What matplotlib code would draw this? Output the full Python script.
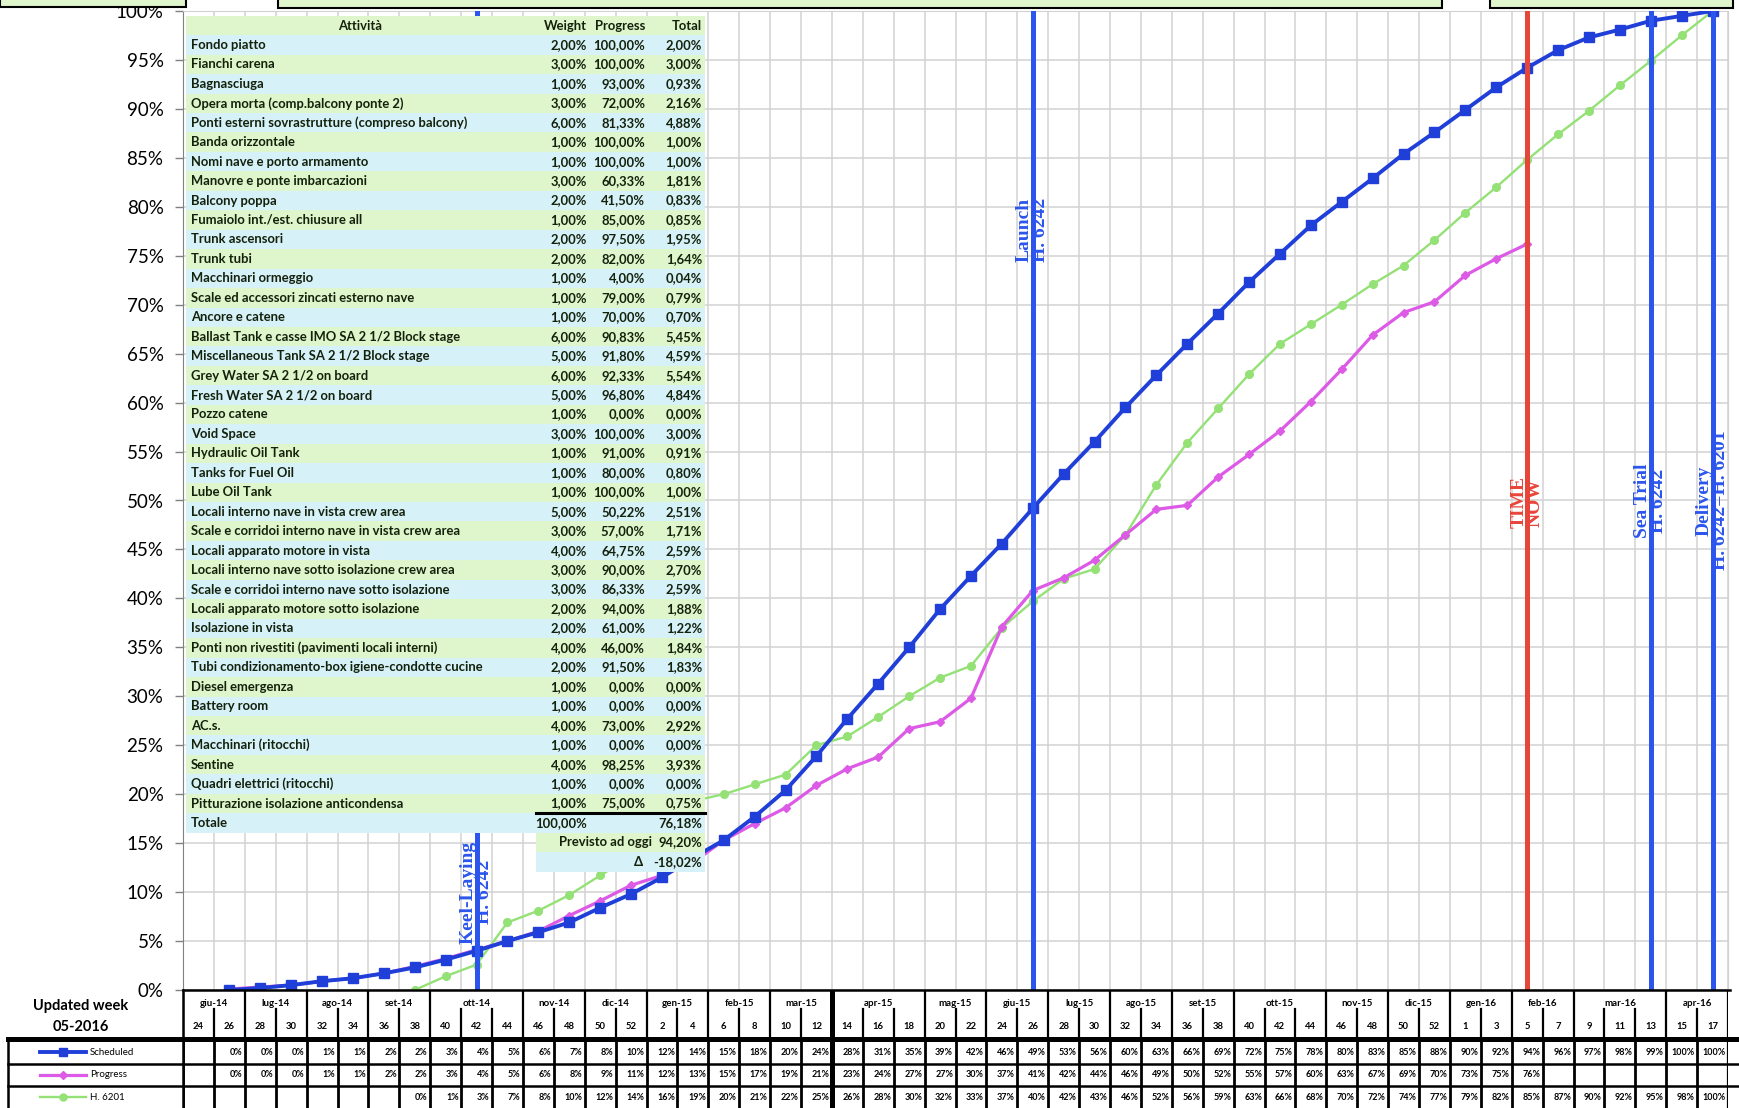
import numpy as np
import matplotlib
matplotlib.use("Agg")
import matplotlib.pyplot as plt
from matplotlib.patches import Rectangle
from matplotlib.lines import Line2D

plt.rcParams['font.family'] = ['Lato', 'DejaVu Sans']

nan = np.nan

# ---------------- data ----------------
months = ["giu-14", "lug-14", "ago-14", "set-14", "ott-14", "nov-14", "dic-14",
          "gen-15", "feb-15", "mar-15", "apr-15", "mag-15", "giu-15", "lug-15",
          "ago-15", "set-15", "ott-15", "nov-15", "dic-15", "gen-16", "feb-16",
          "mar-16", "apr-16"]
month_span = [2, 2, 2, 2, 3, 2, 2, 2, 2, 2, 3, 2, 2, 2, 2, 2, 3, 2, 2, 2, 2, 3, 2]
weeks = [24, 26, 28, 30, 32, 34, 36, 38, 40, 42, 44, 46, 48, 50, 52,
         2, 4, 6, 8, 10, 12, 14, 16, 18, 20, 22, 24, 26, 28, 30, 32, 34, 36, 38,
         40, 42, 44, 46, 48, 50, 52,
         1, 3, 5, 7, 9, 11, 13, 15, 17]

scheduled = [nan, 0.0, 0.2, 0.5, 0.9, 1.2, 1.7, 2.3, 3.1, 4.0, 5.0, 5.9, 6.9, 8.4,
             9.8, 11.5, 13.5, 15.3, 17.7, 20.4, 23.9, 27.7, 31.3, 35.0, 38.9, 42.3,
             45.6, 49.2, 52.7, 56.0, 59.5, 62.8, 66.0, 69.1, 72.3, 75.2, 78.1, 80.5,
             82.9, 85.4, 87.6, 89.9, 92.2, 94.2, 96.0, 97.3, 98.1, 99.0, 99.5, 100.0]
progress = [nan, 0.1, 0.3, 0.5, 0.9, 1.2, 1.7, 2.4, 3.2, 4.1, 5.0, 6.0, 7.6, 9.1,
            10.7, 11.7, 13.0, 15.3, 17.0, 18.6, 20.9, 22.6, 23.8, 26.7, 27.4, 29.8,
            37.1, 40.8, 42.1, 43.9, 46.5, 49.1, 49.5, 52.4, 54.7, 57.1, 60.1, 63.4,
            66.9, 69.2, 70.3, 73.0, 74.7, 76.2, nan, nan, nan, nan, nan, nan]
h6201 = [nan, nan, nan, nan, nan, nan, nan, 0.0, 1.4, 2.6, 6.9, 8.1, 9.7, 11.7,
         13.6, 15.5, 19.3, 20.0, 21.0, 22.0, 25.0, 25.9, 27.9, 30.0, 31.9, 33.1,
         37.0, 39.7, 42.0, 43.0, 46.5, 51.6, 55.9, 59.4, 62.9, 66.0, 68.0, 70.0,
         72.1, 74.0, 76.6, 79.4, 82.0, 84.8, 87.4, 89.8, 92.4, 94.9, 97.5, 100.0]
series_names = ["Scheduled", "Progress", "H. 6201"]

milestone_labels = ["Keel-Laying\nH. 6242", "Launch\nH. 6242", "TIME\nNOW",
                    "Sea Trial\nH. 6242", "Delivery\nH. 6242=H. 6201"]
milestone_cols = [9, 27, 43, 47, 49]

activities = [
    "Fondo piatto", "Fianchi carena", "Bagnasciuga",
    "Opera morta (comp.balcony ponte 2)",
    "Ponti esterni sovrastrutture (compreso balcony)", "Banda orizzontale",
    "Nomi nave e porto armamento", "Manovre e ponte imbarcazioni",
    "Balcony poppa", "Fumaiolo int./est. chiusure all", "Trunk ascensori",
    "Trunk tubi", "Macchinari ormeggio",
    "Scale ed accessori zincati esterno nave", "Ancore e catene",
    "Ballast Tank e casse IMO SA 2 1/2 Block stage",
    "Miscellaneous Tank SA 2 1/2 Block stage", "Grey Water SA 2 1/2 on board",
    "Fresh Water SA 2 1/2 on board", "Pozzo catene", "Void Space",
    "Hydraulic Oil Tank", "Tanks for Fuel Oil", "Lube Oil Tank",
    "Locali interno nave in vista crew area",
    "Scale e corridoi interno nave in vista crew area",
    "Locali apparato motore in vista",
    "Locali interno nave sotto isolazione crew area",
    "Scale e corridoi interno nave sotto isolazione",
    "Locali apparato motore sotto isolazione", "Isolazione in vista",
    "Ponti non rivestiti (pavimenti locali interni)",
    "Tubi condizionamento-box igiene-condotte cucine", "Diesel emergenza",
    "Battery room", "AC.s.", "Macchinari (ritocchi)", "Sentine",
    "Quadri elettrici (ritocchi)", "Pitturazione isolazione anticondensa"]
weights = [2, 3, 1, 3, 6, 1, 1, 3, 2, 1, 2, 2, 1, 1, 1, 6, 5, 6, 5, 1, 3, 1, 1, 1,
           5, 3, 4, 3, 3, 2, 2, 4, 2, 1, 1, 4, 1, 4, 1, 1]
progress_pct = [100.00, 100.00, 93.00, 72.00, 81.33, 100.00, 100.00, 60.33, 41.50,
                85.00, 97.50, 82.00, 4.00, 79.00, 70.00, 90.83, 91.80, 92.33, 96.80,
                0.00, 100.00, 91.00, 80.00, 100.00, 50.22, 57.00, 64.75, 90.00,
                86.33, 94.00, 61.00, 46.00, 91.50, 0.00, 0.00, 73.00, 0.00, 98.25,
                0.00, 75.00]
previsto = 94.20

# ---------------- helpers ----------------
W, H = 1739, 1108


def pct(v):
    return f"{v:.2f}".replace(".", ",") + "%"


BLUE = "#1f3fd8"
MLBLUE = "#2b55ec"
RED = "#e8453a"
MAG = "#dc5ae6"
GRN = "#94e176"
GREEN_BG = "#dff5cc"
CYAN_BG = "#d7f1f9"
TXT = "#14220c"

fig = plt.figure(figsize=(W / 100, H / 100), dpi=100)

L, R, T, B = 183, 1728, 11, 990
ax = fig.add_axes([L / W, 1 - B / H, (R - L) / W, (B - T) / H])
n = len(weeks)
x = np.arange(n)
ax.set_xlim(-0.5, n - 0.5)
ax.set_ylim(0, 100)
ax.set_yticks(np.arange(0, 101, 5))
ax.set_yticklabels([f"{v}%" for v in range(0, 101, 5)], fontsize=13.5)
ax.set_xticks(np.arange(-0.5, n, 1))
ax.tick_params(axis='x', length=0, labelbottom=False)
ax.tick_params(axis='y', length=6, width=1, color='#808080', pad=8)
ax.grid(True, color='#d2d2d2', lw=1.1, zorder=0)
ax.set_axisbelow(True)
for s in ['top', 'right']:
    ax.spines[s].set_color('#d2d2d2')
ax.spines['left'].set_color('#808080')
ax.spines['bottom'].set_visible(False)

ax.plot(x, h6201, color=GRN, lw=1.7, marker='o', ms=5.5, zorder=3)
ax.plot(x, progress, color=MAG, lw=2.3, marker='D', ms=4.5, zorder=4)
ax.plot(x, scheduled, color=BLUE, lw=2.8, marker='s', ms=7, zorder=5)

label_y = [10.0, 77.6, 49.8, 50.0, 50.0]
for lab, col, ly in zip(milestone_labels, milestone_cols, label_y):
    c = RED if "TIME" in lab else MLBLUE
    ax.axvline(col, color=c, lw=3.6, zorder=6)
    ax.text(col, ly, lab, rotation=90, ha='center', va='center', color=c,
            fontsize=14, fontweight='bold', family=['Liberation Serif'],
            linespacing=0.95, zorder=7)

# ---------------- overlay (pixel coords) ----------------
ov = fig.add_axes([0, 0, 1, 1], zorder=10)
ov.set_xlim(0, W)
ov.set_ylim(H, 0)
ov.axis('off')

# top boxes (cut off)
for (bx0, bx1, by) in [(0, 186, 7), (278, 1442, 8), (1490, 1733, 8)]:
    ov.add_patch(Rectangle((bx0, -20), bx1 - bx0, by + 20, fc=GREEN_BG,
                           ec='black', lw=1.5))

# activity table
row_h = 19.45
y0 = 25.5
tx0, tx1 = 186, 705
fs = 9.4
fw = 'bold'
nrows = len(activities) + 2
for k in range(nrows):
    bg = GREEN_BG if k % 2 == 0 else CYAN_BG
    ov.add_patch(Rectangle((tx0, y0 + k * row_h - row_h / 2), tx1 - tx0, row_h,
                           fc=bg, ec='none'))
for k in (nrows, nrows + 1):
    bg = GREEN_BG if k % 2 == 0 else CYAN_BG
    ov.add_patch(Rectangle((536, y0 + k * row_h - row_h / 2), tx1 - 536, row_h,
                           fc=bg, ec='none'))

xn, xw, xp, xt = 191, 587, 645, 702
kw = dict(va='center', fontsize=fs, fontweight=fw, color=TXT)
ov.text(360, y0, "Attività", ha='center', **kw)
ov.text(xw, y0, "Weight", ha='right', **kw)
ov.text(xp, y0, "Progress", ha='right', **kw)
ov.text(xt, y0, "Total", ha='right', **kw)
tot = 0.0
for i, (a, w, p) in enumerate(zip(activities, weights, progress_pct)):
    yy = y0 + (i + 1) * row_h
    t = round(w * p / 100.0, 2)
    tot += t
    ov.text(xn, yy, a, ha='left', **kw)
    ov.text(xw, yy, pct(w), ha='right', **kw)
    ov.text(xp, yy, pct(p), ha='right', **kw)
    ov.text(xt, yy, pct(t), ha='right', **kw)
ky = y0 + (len(activities) + 1) * row_h
ov.plot([536, tx1], [ky - row_h / 2, ky - row_h / 2], color='black', lw=2.2)
ov.text(xn, ky, "Totale", ha='left', **kw)
ov.text(xw, ky, pct(sum(weights)), ha='right', **kw)
ov.text(xt, ky, pct(tot), ha='right', **kw)
ov.text(652, ky + row_h, "Previsto ad oggi", ha='right', **kw)
ov.text(xt, ky + row_h, pct(previsto), ha='right', **kw)
ov.text(643, ky + 2 * row_h, "Δ", ha='right', **kw)
ov.text(xt, ky + 2 * row_h, pct(tot - previsto), ha='right', **kw)

# ---------------- bottom data table ----------------
bt = fig.add_axes([L / W, 0, (R - L) / W, (H - B) / H], zorder=9)
bt.set_xlim(-0.5, n - 0.5)
bt.set_ylim(H, B)
bt.axis('off')

ym0, ym1, yw1 = 990, 1016, 1036
rows_y = [1041, 1063.5, 1086, 1108]
# horizontal lines
ov.plot([L, R + 2], [B, B], color='black', lw=1.8)
ov.plot([8, W], [1038.5, 1038.5], color='black', lw=3.6)
for yy in rows_y[1:3]:
    ov.plot([8, W], [yy, yy], color='black', lw=1.8)
ov.plot([8, 8], [1038, H], color='black', lw=1.8)
ov.plot([L, L], [B, H], color='black', lw=1.8)

# month labels and boundaries
start = 0
for m, sp in zip(months, month_span):
    cx = start + sp / 2 - 0.5
    bt.text(cx, 1003, m, ha='center', va='center', fontsize=7, fontweight='bold')
    b = start - 0.5
    lw = 3.6 if m == "apr-15" else 1.6
    bt.plot([b, b], [ym0, yw1], color='black', lw=lw)
    for j in range(1, sp):
        bt.plot([b + j, b + j], [1009, yw1], color='black', lw=1.6)
    start += sp
bt.plot([n - 0.5, n - 0.5], [ym0, H], color='black', lw=1.6)
for i, wk in enumerate(weeks):
    bt.text(i, 1026.5, str(wk), ha='center', va='center', fontsize=6.8, fontweight='bold')

# data rows
boundaries = np.arange(-0.5, n, 1)
for b in boundaries:
    lw = 3.6 if b == 20.5 else 2.0
    bt.plot([b, b], [rows_y[0], H], color='black', lw=lw)
for r, ser in enumerate([scheduled, progress, h6201]):
    yc = (rows_y[r] + rows_y[r + 1]) / 2
    for i, v in enumerate(ser):
        if not np.isnan(v):
            bt.text(i + 0.42, yc, f"{v:.0f}%", ha='right', va='center',
                    fontsize=6.5, fontweight='bold')

# legend cells on the left
styles = [(BLUE, 's', 2.8, 6), (MAG, 'D', 2.3, 4.5), (GRN, 'o', 1.7, 5)]
for r, (name, (c, mk, lw, ms)) in enumerate(zip(series_names, styles)):
    yc = (rows_y[r] + rows_y[r + 1]) / 2
    ov.add_line(Line2D([40, 86], [yc, yc], color=c, lw=lw))
    ov.plot([63], [yc], marker=mk, color=c, ms=ms)
    ov.text(90, yc, name, ha='left', va='center', fontsize=7)

ov.text(81, 1006, "Updated week", ha='center', va='center', fontsize=10.5, fontweight='bold')
ov.text(81, 1027, "05-2016", ha='center', va='center', fontsize=10.5, fontweight='bold')

fig.savefig("out.png", dpi=100)
